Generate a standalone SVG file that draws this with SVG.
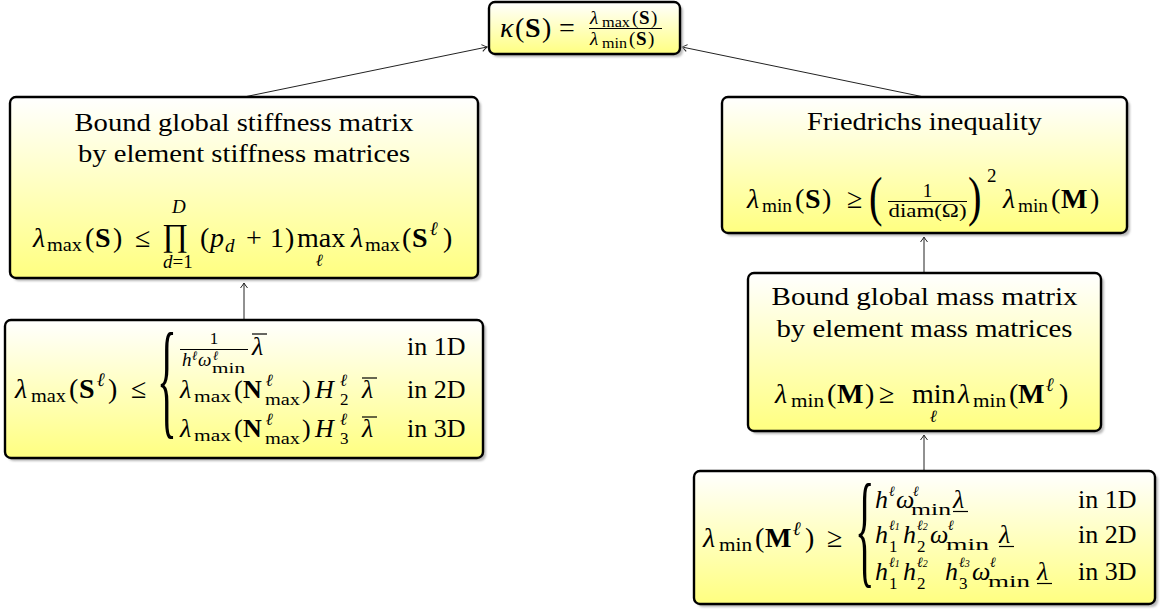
<svg xmlns="http://www.w3.org/2000/svg" width="1165" height="610" viewBox="0 0 1165 610">
<style>
.f{font-family:"Liberation Serif","DejaVu Serif",serif;fill:#000;font-size:28px}
.r{font-size:26px}
.it{font-style:italic}
.bf{font-weight:bold}
.s{font-size:19px}
.s2{font-size:17px}
.ss{font-size:14px}
.box{fill:url(#yg);stroke:#000;stroke-width:2.4}
.sh{fill:#b8b8b8;filter:url(#bl)}
.ttl{font-size:26px;text-anchor:middle}
.mid{text-anchor:middle}
.ln{stroke:#000;stroke-width:1.2}
.edge{stroke:#222;stroke-width:1;fill:none;marker-end:url(#ah)}
</style>
<defs>
<linearGradient id="yg" x1="0" y1="0" x2="0" y2="1">
<stop offset="0" stop-color="#ffffff"/>
<stop offset="1" stop-color="#ffff80"/>
</linearGradient>
<filter id="bl" x="-5%" y="-5%" width="110%" height="110%"><feGaussianBlur stdDeviation="0.8"/></filter>
<marker id="ah" markerWidth="10" markerHeight="10" refX="0" refY="0" viewBox="-6 -5 7 10" orient="auto" markerUnits="userSpaceOnUse">
<path d="M-5,-3.5 Q-1.5,-0.8 0,0 Q-1.5,0.8 -5,3.5" fill="none" stroke="#222" stroke-width="1"/>
</marker>
</defs>
<rect width="1165" height="610" fill="#fff"/>

<g id="connectors">
<line class="edge" x1="244" y1="97" x2="487" y2="47"/>
<line class="edge" x1="924" y1="97" x2="682" y2="47"/>
<line class="edge" x1="244" y1="319" x2="244" y2="283"/>
<line class="edge" x1="924" y1="272" x2="924" y2="237"/>
<line class="edge" x1="924" y1="470" x2="924" y2="435"/>
</g>

<g id="kappa">
<rect class="sh" x="492" y="5" width="191" height="52" rx="6"/>
<rect class="box" x="489" y="2" width="191" height="52" rx="6"/>
<text class="f it" x="500" y="37">κ</text>
<text class="f" x="515" y="37">(</text>
<text class="f bf" x="525" y="37">S</text>
<text class="f" x="542" y="37">)</text>
<text class="f" x="559" y="37">=</text>
<text class="f it" x="590" y="24" style="font-size:19px">λ</text>
<text class="f" x="602" y="27" style="font-size:14px" textLength="28" lengthAdjust="spacingAndGlyphs">max</text>
<text class="f" x="632" y="24" style="font-size:19px">(</text>
<text class="f bf" x="639" y="24" style="font-size:19px">S</text>
<text class="f" x="651" y="24" style="font-size:19px">)</text>
<line class="ln" x1="589" y1="28.5" x2="662" y2="28.5"/>
<text class="f it" x="590" y="45" style="font-size:19px">λ</text>
<text class="f" x="602" y="48" style="font-size:14px" textLength="25" lengthAdjust="spacingAndGlyphs">min</text>
<text class="f" x="629" y="45" style="font-size:19px">(</text>
<text class="f bf" x="636" y="45" style="font-size:19px">S</text>
<text class="f" x="648" y="45" style="font-size:19px">)</text>
</g>

<g id="stiffness-global">
<rect class="sh" x="13" y="100" width="468" height="181" rx="6"/>
<rect class="box" x="10" y="97" width="468" height="181" rx="6"/>
<text class="f ttl" x="244" y="131" textLength="339" lengthAdjust="spacingAndGlyphs">Bound global stiffness matrix</text>
<text class="f ttl" x="244" y="162" textLength="332" lengthAdjust="spacingAndGlyphs">by element stiffness matrices</text>
<text class="f it" x="33" y="247">λ</text>
<text class="f s" x="47" y="251" textLength="35" lengthAdjust="spacingAndGlyphs">max</text>
<text class="f" x="85" y="247">(</text>
<text class="f bf" x="95" y="247">S</text>
<text class="f" x="113" y="247">)</text>
<text class="f" x="135" y="247">≤</text>
<text class="f"><tspan x="162" y="246" style="font-size:32px">∏</tspan><tspan class="s it" x="172" y="213">D</tspan><tspan class="s" x="163" y="268"><tspan class="it">d</tspan>=1</tspan></text>
<text class="f" x="200" y="247">(</text>
<text class="f it" x="210" y="247">p</text>
<text class="f s it" x="225" y="252">d</text>
<text class="f" x="246" y="247">+</text>
<text class="f" x="270" y="247">1</text>
<text class="f" x="285" y="247">)</text>
<text class="f"><tspan x="297" y="247">max</tspan><tspan class="s2 it bf" x="316" y="266">ℓ</tspan></text>
<text class="f it" x="351" y="247">λ</text>
<text class="f s" x="365" y="251" textLength="35" lengthAdjust="spacingAndGlyphs">max</text>
<text class="f" x="402" y="247">(</text>
<text class="f bf" x="412" y="247">S</text>
<text class="f s it bf" x="430" y="235">ℓ</text>
<text class="f" x="443" y="247">)</text>
</g>

<g id="stiffness-element">
<rect class="sh" x="8" y="323" width="478" height="138" rx="6"/>
<rect class="box" x="5" y="320" width="478" height="138" rx="6"/>
<text class="f it" x="15" y="398">λ</text>
<text class="f s" x="31" y="402" textLength="35" lengthAdjust="spacingAndGlyphs">max</text>
<text class="f" x="69" y="398">(</text>
<text class="f bf" x="79" y="398">S</text>
<text class="f s it bf" x="97" y="386">ℓ</text>
<text class="f" x="108" y="398">)</text>
<text class="f" x="131" y="398">≤</text>
<text class="f" transform="translate(157,422) scale(0.32,1)" style="font-size:129px">{</text>
<text class="f s2 mid" x="214" y="344">1</text>
<line class="ln" x1="180" y1="349.5" x2="248" y2="349.5"/>
<text class="f s it" x="182" y="366">h</text>
<text class="f it" x="192" y="360" style="font-size:13px">ℓ</text>
<text class="f s it" x="198" y="366">ω</text>
<text class="f it" x="213" y="360" style="font-size:13px">ℓ</text>
<text class="f ss" x="212" y="373" textLength="33" lengthAdjust="spacingAndGlyphs">min</text>
<text class="f r it" x="252" y="355">λ</text>
<line class="ln" x1="252" y1="334" x2="267" y2="334"/>
<text class="f r" x="407" y="355">in 1D</text>
<text class="f r it" x="180" y="398">λ</text>
<text class="f s2" x="194" y="402" textLength="37" lengthAdjust="spacingAndGlyphs">max</text>
<text class="f r" x="234" y="398">(</text>
<text class="f r bf" x="243" y="398">N</text>
<text class="f s2 it bf" x="266" y="386">ℓ</text>
<text class="f s2" x="265" y="405" textLength="35" lengthAdjust="spacingAndGlyphs">max</text>
<text class="f r" x="302" y="398">)</text>
<text class="f r it" x="315" y="398">H</text>
<text class="f s2 it" x="340" y="386">ℓ</text>
<text class="f s2" x="340" y="405">2</text>
<text class="f r it" x="362" y="398">λ</text>
<line class="ln" x1="362" y1="378" x2="377" y2="378"/>
<text class="f r" x="407" y="398">in 2D</text>
<text class="f r it" x="180" y="437">λ</text>
<text class="f s2" x="194" y="441" textLength="37" lengthAdjust="spacingAndGlyphs">max</text>
<text class="f r" x="234" y="437">(</text>
<text class="f r bf" x="243" y="437">N</text>
<text class="f s2 it bf" x="266" y="425">ℓ</text>
<text class="f s2" x="265" y="444" textLength="35" lengthAdjust="spacingAndGlyphs">max</text>
<text class="f r" x="302" y="437">)</text>
<text class="f r it" x="315" y="437">H</text>
<text class="f s2 it" x="340" y="425">ℓ</text>
<text class="f s2" x="340" y="444">3</text>
<text class="f r it" x="362" y="437">λ</text>
<line class="ln" x1="362" y1="417" x2="377" y2="417"/>
<text class="f r" x="407" y="437">in 3D</text>
</g>

<g id="friedrichs">
<rect class="sh" x="725" y="100" width="405" height="136" rx="6"/>
<rect class="box" x="722" y="97" width="405" height="136" rx="6"/>
<text class="f ttl" x="924.5" y="130" textLength="235" lengthAdjust="spacingAndGlyphs">Friedrichs inequality</text>
<text class="f it" x="747" y="208">λ</text>
<text class="f s" x="762" y="212" textLength="30" lengthAdjust="spacingAndGlyphs">min</text>
<text class="f" x="795" y="208">(</text>
<text class="f bf" x="805" y="208">S</text>
<text class="f" x="822" y="208">)</text>
<text class="f" x="847" y="208">≥</text>
<text class="f" transform="translate(869,215) scale(0.75,1)" style="font-size:54px">(</text>
<text class="f s mid" x="927.5" y="197">1</text>
<line class="ln" x1="888" y1="201.5" x2="967" y2="201.5"/>
<text class="f s mid" x="927.5" y="217" textLength="78" lengthAdjust="spacingAndGlyphs">diam(Ω)</text>
<text class="f" transform="translate(968,215) scale(0.75,1)" style="font-size:54px">)</text>
<text class="f s" x="987" y="182">2</text>
<text class="f it" x="1003" y="208">λ</text>
<text class="f s" x="1018" y="212" textLength="30" lengthAdjust="spacingAndGlyphs">min</text>
<text class="f" x="1051" y="208">(</text>
<text class="f bf" x="1061" y="208">M</text>
<text class="f" x="1090" y="208">)</text>
</g>

<g id="mass-global">
<rect class="sh" x="751" y="276" width="353" height="158" rx="6"/>
<rect class="box" x="748" y="273" width="353" height="158" rx="6"/>
<text class="f ttl" x="924.5" y="305" textLength="306" lengthAdjust="spacingAndGlyphs">Bound global mass matrix</text>
<text class="f ttl" x="924.5" y="337" textLength="296" lengthAdjust="spacingAndGlyphs">by element mass matrices</text>
<text class="f it" x="775" y="403">λ</text>
<text class="f s" x="791" y="407" textLength="33" lengthAdjust="spacingAndGlyphs">min</text>
<text class="f" x="827" y="403">(</text>
<text class="f bf" x="837" y="403">M</text>
<text class="f" x="865" y="403">)</text>
<text class="f" x="879" y="403">≥</text>
<text class="f"><tspan x="912" y="403">min</tspan><tspan class="s2 it bf" x="930" y="422">ℓ</tspan></text>
<text class="f it" x="958" y="403">λ</text>
<text class="f s" x="973" y="407" textLength="33" lengthAdjust="spacingAndGlyphs">min</text>
<text class="f" x="1009" y="403">(</text>
<text class="f bf" x="1018" y="403">M</text>
<text class="f s it bf" x="1046" y="391">ℓ</text>
<text class="f" x="1059" y="403">)</text>
</g>

<g id="mass-element">
<rect class="sh" x="697" y="474" width="461" height="133" rx="6"/>
<rect class="box" x="694" y="471" width="461" height="133" rx="6"/>
<text class="f it" x="703" y="547">λ</text>
<text class="f s" x="719" y="551" textLength="33" lengthAdjust="spacingAndGlyphs">min</text>
<text class="f" x="755" y="547">(</text>
<text class="f bf" x="765" y="547">M</text>
<text class="f s it bf" x="793" y="535">ℓ</text>
<text class="f" x="805" y="547">)</text>
<text class="f" x="827" y="547">≥</text>
<text class="f" transform="translate(855,571) scale(0.32,1)" style="font-size:127px">{</text>
<text class="f r it" x="875" y="508">h</text>
<text class="f ss it" x="889" y="496">ℓ</text>
<text class="f r it" x="896" y="508">ω</text>
<text class="f ss it" x="913" y="496">ℓ</text>
<text class="f s2" x="911" y="515" textLength="40" lengthAdjust="spacingAndGlyphs">min</text>
<text class="f r it" x="953" y="508">λ</text>
<line class="ln" x1="953" y1="511.5" x2="968" y2="511.5"/>
<text class="f r" x="1078" y="508">in 1D</text>
<text class="f r it" x="875" y="543">h</text>
<text class="f ss it" x="889" y="530">ℓ<tspan style="font-size:10px">1</tspan></text>
<text class="f s2" x="889" y="552">1</text>
<text class="f r it" x="903" y="543">h</text>
<text class="f ss it" x="917" y="530">ℓ<tspan style="font-size:10px">2</tspan></text>
<text class="f s2" x="917" y="552">2</text>
<text class="f r it" x="930" y="543">ω</text>
<text class="f ss it bf" x="948" y="530">ℓ</text>
<text class="f s2" x="946" y="550" textLength="43" lengthAdjust="spacingAndGlyphs">min</text>
<text class="f r it" x="999" y="543">λ</text>
<line class="ln" x1="999" y1="546.5" x2="1014" y2="546.5"/>
<text class="f r" x="1078" y="543">in 2D</text>
<text class="f r it" x="875" y="580">h</text>
<text class="f ss it" x="889" y="567">ℓ<tspan style="font-size:10px">1</tspan></text>
<text class="f s2" x="889" y="589">1</text>
<text class="f r it" x="903" y="580">h</text>
<text class="f ss it" x="917" y="567">ℓ<tspan style="font-size:10px">2</tspan></text>
<text class="f s2" x="917" y="589">2</text>
<text class="f r it" x="945" y="580">h</text>
<text class="f ss it" x="959" y="567">ℓ<tspan style="font-size:10px">3</tspan></text>
<text class="f s2" x="959" y="589">3</text>
<text class="f r it" x="972" y="580">ω</text>
<text class="f ss it bf" x="990" y="567">ℓ</text>
<text class="f s2" x="988" y="587" textLength="42" lengthAdjust="spacingAndGlyphs">min</text>
<text class="f r it" x="1037" y="580">λ</text>
<line class="ln" x1="1037" y1="583.5" x2="1052" y2="583.5"/>
<text class="f r" x="1078" y="580">in 3D</text>
</g>
</svg>
